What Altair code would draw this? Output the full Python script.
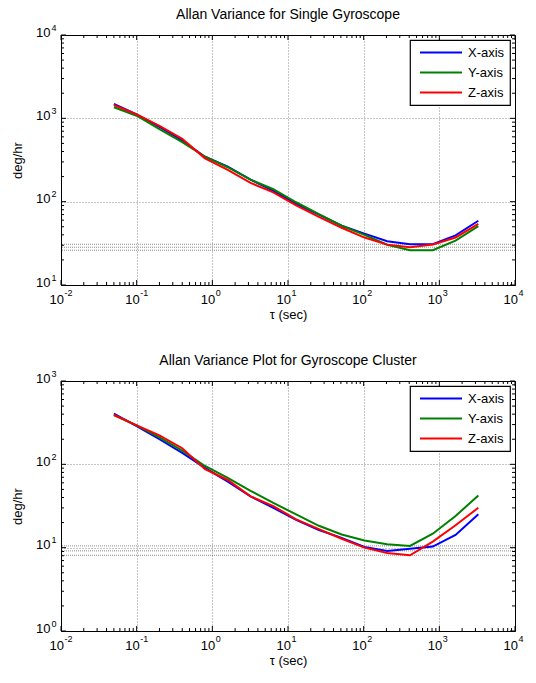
import altair as alt
import pandas as pd

FONT = "Liberation Sans"

# ---------------- data ----------------
tau = [0.05, 0.1, 0.2, 0.4, 0.8, 1.6, 3.2, 6.4, 12.8, 25.6, 51.2, 102.4,
       204.8, 409.6, 819.2, 1638.4, 3276.8]
series_names = ["X-axis", "Y-axis", "Z-axis"]
series_colors = ["#0000FF", "#008000", "#FF0000"]

single_x = [1486, 1114, 791, 542, 346, 264, 184, 135, 94, 70, 51.4, 41.4,
            33.5, 30.8, 30.8, 39.4, 59]
single_y = [1358, 1075, 743, 519, 346, 259, 184, 141, 98.4, 71, 51.4, 40,
            30.4, 26.1, 26.1, 34.1, 51]
single_z = [1445, 1114, 813, 567, 331, 241, 168, 129, 90, 65.6, 48.6, 37.1,
            30.5, 28.4, 30.6, 37.2, 54]
single_ref = [30.8, 28.4, 26.1]

cluster_x = [405, 288, 200, 137, 90.6, 61.9, 41.3, 30.1, 21.5, 16.3, 13.1,
             10.2, 9.15, 9.7, 10.3, 14.2, 25.1]
cluster_y = [391, 293, 210, 146, 95.6, 69, 48.1, 34.4, 25.1, 18.3, 14.4,
             12.2, 11.0, 10.5, 14.7, 24, 42.4]
cluster_z = [391, 293, 223, 156, 87.3, 64.9, 41.3, 31.5, 21.9, 16.7, 12.8,
             10.0, 8.65, 8.1, 11.8, 18.6, 30.1]
cluster_ref = [10.5, 9.15, 8.1]

x_decades = [0.01, 0.1, 1, 10, 100, 1000, 10000]
x_exponents = ["-2", "-1", "0", "1", "2", "3", "4"]
top_y_decades = [10, 100, 1000, 10000]
top_y_exponents = ["1", "2", "3", "4"]
bot_y_decades = [1, 10, 100, 1000]
bot_y_exponents = ["0", "1", "2", "3"]

W, H = 454, 250


def minor_ticks(decades):
    return [m * d for d in decades[:-1] for m in range(2, 10)]


def panel(title, xs, ys, zs, refs, y_dec, y_exp):
    xscale = alt.Scale(type="log", domain=[x_decades[0], x_decades[-1]], nice=False)
    yscale = alt.Scale(type="log", domain=[y_dec[0], y_dec[-1]], nice=False)

    df = pd.DataFrame({
        "tau": tau * 3,
        "value": xs + ys + zs,
        "series": [series_names[0]] * len(tau) + [series_names[1]] * len(tau)
                  + [series_names[2]] * len(tau),
    })

    refs_layer = alt.Chart(pd.DataFrame({"v": refs})).mark_rule(
        color="#000000", opacity=0.45, strokeDash=[1, 1], strokeWidth=1
    ).encode(y=alt.Y("v:Q", scale=yscale, axis=None))

    layers = [refs_layer]

    # ticks (inside, on all four sides)
    def xt(vals, length):
        base = alt.Chart(pd.DataFrame({"t": vals})).mark_rule(color="black", strokeWidth=1, clip=False)
        xe = alt.X("t:Q", scale=xscale, axis=None)
        return [base.encode(x=xe, y=alt.value(0), y2=alt.value(length)),
                base.encode(x=xe, y=alt.value(H), y2=alt.value(H - length))]

    def yt(vals, length):
        base = alt.Chart(pd.DataFrame({"t": vals})).mark_rule(color="black", strokeWidth=1, clip=False)
        ye = alt.Y("t:Q", scale=yscale, axis=None)
        return [base.encode(y=ye, x=alt.value(0), x2=alt.value(length)),
                base.encode(y=ye, x=alt.value(W), x2=alt.value(W - length))]

    layers += xt(x_decades, 5) + xt(minor_ticks(x_decades), 3)
    layers += yt(y_dec, 5) + yt(minor_ticks(y_dec), 3)

    # tick labels: "10" with superscript exponent
    xlab = alt.Chart(pd.DataFrame({"d": x_decades, "e": x_exponents}))
    layers.append(xlab.mark_text(text="10", align="right", baseline="alphabetic", dx=3,
                                 fontSize=13, font=FONT, color="black", clip=False).encode(
        x=alt.X("d:Q", scale=xscale, axis=None), y=alt.value(H + 19.3)))
    layers.append(xlab.mark_text(align="left", baseline="alphabetic", dx=3.5,
                                 fontSize=9, font=FONT, color="black", clip=False).encode(
        x=alt.X("d:Q", scale=xscale, axis=None), y=alt.value(H + 11.4), text="e:N"))

    ylab = alt.Chart(pd.DataFrame({"d": y_dec, "e": y_exp}))
    layers.append(ylab.mark_text(text="10", align="right", baseline="alphabetic", dy=1.7,
                                 fontSize=13, font=FONT, color="black", clip=False).encode(
        y=alt.Y("d:Q", scale=yscale, axis=None), x=alt.value(-10.5)))
    layers.append(ylab.mark_text(align="left", baseline="alphabetic", dy=-4.3,
                                 fontSize=9, font=FONT, color="black", clip=False).encode(
        y=alt.Y("d:Q", scale=yscale, axis=None), x=alt.value(-9.5), text="e:N"))

    lines = alt.Chart(df).mark_line(strokeWidth=2).encode(
        x=alt.X("tau:Q", scale=xscale, axis=alt.Axis(
            orient="bottom", values=x_decades, grid=True, labels=False, ticks=False, domain=False,
            title="τ (sec)", titleY=29.5, titleBaseline="middle")),
        y=alt.Y("value:Q", scale=yscale, axis=alt.Axis(
            orient="left", values=y_dec, grid=True, labels=False, ticks=False, domain=False,
            title="deg/hr", titleX=-44, titleY=H / 2, titleBaseline="middle")),
        color=alt.Color("series:N", scale=alt.Scale(domain=series_names, range=series_colors),
                        legend=alt.Legend(
                            title=None, orient="top-right", offset=5, padding=5,
                            strokeColor="black", fillColor="white",
                            symbolType="stroke", symbolSize=1764, symbolStrokeWidth=2,
                            symbolOffset=4,
                            labelFontSize=13, labelFont=FONT, labelColor="black",
                            labelOffset=5, rowPadding=5, clipHeight=15, symbolOpacity=1)),
    )
    layers.append(lines)

    return alt.layer(*layers).resolve_axis(x="independent", y="independent").properties(
        width=W, height=H,
        title=alt.TitleParams(title, fontSize=14, fontWeight="normal", font=FONT,
                              color="black", anchor="middle", offset=2),
    )


top = panel("Allan Variance for Single Gyroscope", single_x, single_y, single_z,
            single_ref, top_y_decades, top_y_exponents)
bottom = panel("Allan Variance Plot for Gyroscope Cluster", cluster_x, cluster_y, cluster_z,
               cluster_ref, bot_y_decades, bot_y_exponents)

chart = alt.vconcat(top, bottom, spacing=31).resolve_legend(color="independent").properties(
    padding={"left": 2, "top": -1, "right": -1, "bottom": 0}
).configure_view(
    stroke="black", strokeWidth=1
).configure_axis(
    gridColor="#000000", gridOpacity=0.45, gridDash=[1, 2], gridWidth=1,
    titleFont=FONT, titleFontSize=13, titleFontWeight="normal", titleColor="black"
).configure_legend(strokeWidth=1.2, cornerRadius=0)

chart.save("out.html", embed_options={"renderer": "svg", "actions": False})
